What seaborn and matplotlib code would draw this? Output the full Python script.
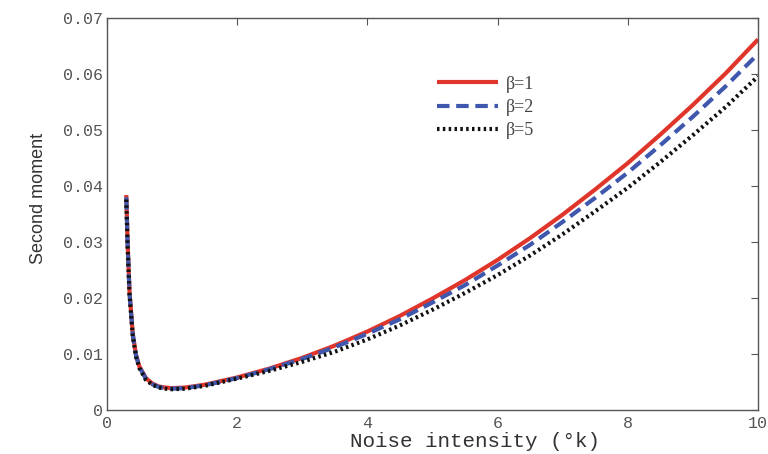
import numpy as np
import pandas as pd
import matplotlib
matplotlib.use("Agg")
import matplotlib.pyplot as plt
import seaborn as sns

x = [0.3, 0.32, 0.35, 0.4, 0.45, 0.5, 0.6, 0.7, 0.8, 0.9, 1.0, 1.2, 1.5,
     2.0, 2.5, 3.0, 3.5, 4.0, 4.5, 5.0, 5.5, 6.0, 6.5, 7.0, 7.5, 8.0, 8.5, 9.0, 9.5, 10.0]
beta1 = [0.0384, 0.030, 0.021, 0.0135, 0.0098, 0.0078, 0.0057, 0.0047, 0.0042, 0.0040, 0.0039, 0.0040, 0.0045,
         0.0058, 0.0074, 0.0093, 0.0115, 0.0140, 0.0168, 0.0199, 0.0232, 0.0268, 0.0307, 0.0349, 0.0394, 0.0441,
         0.0492, 0.0545, 0.0601, 0.0662]
beta2 = [0.0380, 0.0297, 0.0208, 0.0134, 0.0097, 0.0077, 0.0056, 0.0046, 0.0041, 0.0039, 0.0038, 0.0039, 0.0044,
         0.0057, 0.0073, 0.0091, 0.0112, 0.0136, 0.0162, 0.0192, 0.0223, 0.0258, 0.0295, 0.0336, 0.0379, 0.0424,
         0.0473, 0.0524, 0.0578, 0.0636]
beta5 = [0.0376, 0.0294, 0.0206, 0.0132, 0.0095, 0.0075, 0.0054, 0.0045, 0.0040, 0.0038, 0.0037, 0.0038, 0.0043,
         0.0056, 0.0070, 0.0086, 0.0104, 0.0126, 0.0151, 0.0179, 0.0209, 0.0241, 0.0276, 0.0314, 0.0355, 0.0397,
         0.0443, 0.0491, 0.0541, 0.0596]
labels = ["β=1", "β=2", "β=5"]
xticks = [0, 2, 4, 6, 8, 10]
yticks = [0, 0.01, 0.02, 0.03, 0.04, 0.05, 0.06, 0.07]
yticklabels = ["0", "0.01", "0.02", "0.03", "0.04", "0.05", "0.06", "0.07"]

df = pd.concat([
    pd.DataFrame({"x": x, "y": beta1, "s": labels[0]}),
    pd.DataFrame({"x": x, "y": beta2, "s": labels[1]}),
    pd.DataFrame({"x": x, "y": beta5, "s": labels[2]}),
])

sns.set_style("white")
fig = plt.figure(figsize=(7.68, 4.54), dpi=100)
ax = fig.add_axes([0.139, 0.097, 0.848, 0.863])

colors = ["#e0352b", "#3f57ad", "#111111"]
styles = [(0, ()), (0, (3.0, 1.6)), (0, (0.6, 0.8))]
for lab, c, ls in zip(labels, colors, styles):
    sub = df[df["s"] == lab]
    sns.lineplot(data=sub, x="x", y="y", ax=ax, color=c, lw=3.0, label=lab,
                 linestyle=ls, sort=False)

ax.set_xlim(0, 10)
ax.set_ylim(0, 0.07)
ax.set_xticks(xticks)
ax.set_xticklabels([str(t) for t in xticks])
ax.set_yticks(yticks)
ax.set_yticklabels(yticklabels)
ax.tick_params(direction="in", top=True, right=True, length=5, width=0.8,
               labelsize=12, labelcolor="#555555", colors="#555555")
ax.tick_params(axis="y", pad=3)
ax.tick_params(axis="x", pad=4)
for lab in ax.get_xticklabels() + ax.get_yticklabels():
    lab.set_family("Liberation Mono")
for sp in ax.spines.values():
    sp.set_color("#555555")
    sp.set_linewidth(1.0)

ax.set_xlabel("Noise intensity (°k)", family="Liberation Mono", fontsize=15, color="#333333", labelpad=0)
ax.xaxis.set_label_coords(0.565, -0.055)
ax.set_ylabel("Second moment", family="Liberation Sans", fontsize=13, color="#333333")
ax.yaxis.set_label_coords(-0.092, 0.54)

leg = ax.legend(loc="upper left", bbox_to_anchor=(0.507, 0.853), frameon=False,
                prop={"family": "Liberation Serif", "size": 13}, handlelength=3.4,
                labelspacing=0.35, handletextpad=0.4, borderpad=0, borderaxespad=0)
for t in leg.get_texts():
    t.set_color("#444444")

fig.savefig("out.png", dpi=100, facecolor="white")
